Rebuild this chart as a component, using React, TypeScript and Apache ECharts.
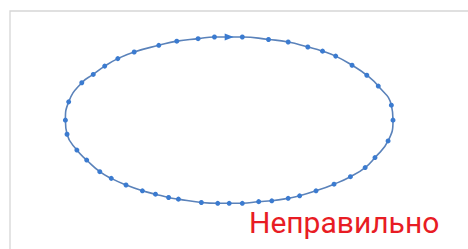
import React, { useEffect, useRef } from "react";
import * as echarts from "echarts";

// Points of the closed curve (in order along the line)
const xValues = [
  0.0, 0.08, 0.24, 0.36, 0.48, 0.57, 0.65, 0.75, 0.84, 0.91, 0.99, 1.0,
  0.97, 0.89, 0.83, 0.74, 0.64, 0.53, 0.43, 0.36, 0.26, 0.18, 0.08, 0.0,
  -0.07, -0.17, -0.31, -0.37, -0.45, -0.53, -0.63, -0.72, -0.79, -0.87, -0.93, -0.99,
  -1.0, -0.98, -0.9, -0.83, -0.76, -0.68, -0.58, -0.43, -0.32, -0.19, -0.09, 0.0,
];
const yValues = [
  1.0, 1.0, 0.97, 0.94, 0.88, 0.83, 0.77, 0.66, 0.54, 0.41, 0.18, 0.0,
  -0.25, -0.45, -0.57, -0.68, -0.77, -0.85, -0.91, -0.94, -0.97, -0.98, -1.0, -1.0,
  -1.0, -0.99, -0.95, -0.93, -0.89, -0.85, -0.78, -0.7, -0.62, -0.48, -0.36, -0.17,
  0.0, 0.22, 0.45, 0.55, 0.65, 0.74, 0.82, 0.9, 0.95, 0.98, 1.0, 1.0,
];
const captionText = "Неправильно";

export default function App() {
  const ref = useRef<HTMLDivElement>(null);
  useEffect(() => {
    if (!ref.current) return;
    const chart = echarts.init(ref.current, null, { renderer: "svg" });
    const last = xValues.length - 1;
    const data = xValues.map((x, i) => {
      if (i === last) {
        return {
          value: [x, yValues[i]],
          symbol: "triangle",
          symbolSize: [7, 9],
          symbolRotate: -90,
        };
      }
      if (i === 0) {
        return { value: [x, yValues[i]], symbol: "none" };
      }
      return { value: [x, yValues[i]] };
    });
    chart.setOption({
      animation: false,
      backgroundColor: "#ffffff",
      grid: { left: 65.4, right: 75, top: 37, bottom: 45.7 },
      xAxis: { type: "value", min: -1, max: 1, show: false },
      yAxis: { type: "value", min: -1, max: 1, show: false },
      series: [
        {
          type: "line",
          data,
          smooth: 0.5,
          clip: false,
          symbol: "circle",
          symbolSize: 5,
          showSymbol: true,
          itemStyle: { color: "#3b7bd0" },
          lineStyle: { color: "#5a82ba", width: 1.6 },
        },
      ],
      graphic: [
        {
          type: "rect",
          shape: { x: 10, y: 11, width: 600, height: 400 },
          style: { fill: "none", stroke: "#d6d6d6", lineWidth: 1.3 },
          silent: true,
        },
        {
          type: "text",
          x: 249,
          y: 207,
          style: {
            text: captionText,
            font: "30px Roboto",
            fill: "#e81c24",
            textAlign: "left",
            textVerticalAlign: "top",
          },
        },
      ],
    });
    return () => chart.dispose();
  }, []);
  return (
    <div
      ref={ref}
      style={{ position: "fixed", left: 0, top: 0, width: 468, height: 249 }}
    />
  );
}
